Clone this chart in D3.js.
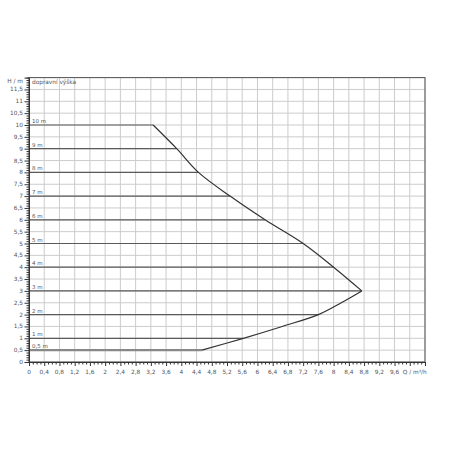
<!DOCTYPE html>
<html>
<head>
<meta charset="utf-8">
<script src="https://d3js.org/d3.v7.min.js"></script>
<style>
  body { margin: 0; background: #fff; }
  svg text { font-family: "DejaVu Sans", Arial, sans-serif; fill: #555; }
</style>
</head>
<body>
<div id="chart"></div>
<script>
// head lines (m) drawn across the field, with their labels
const headLevels = [0.5, 1, 2, 3, 4, 5, 6, 7, 8, 9, 10];
const headLabels = ["0,5 m", "1 m", "2 m", "3 m", "4 m", "5 m", "6 m", "7 m", "8 m", "9 m", "10 m"];
const headEnds = [4.54, 5.63, 7.6, 8.74, 8.0, 7.2, 6.2, 5.28, 4.45, 3.88, 3.26];

// envelope, upper branch (Q, H)
const upperQ = [3.26, 3.88, 4.45, 5.28, 6.2, 7.2, 8.0, 8.74];
const upperH = [10, 9, 8, 7, 6, 5, 4, 3];
// envelope, lower branch (Q, H)
const lowerQ = [4.54, 5.63, 6.65, 7.6, 8.2, 8.74];
const lowerH = [0.5, 1, 1.5, 2, 2.5, 3];

// tick labels
const xTicks = d3.range(0, 26).map(i => +(i * 0.4).toFixed(1)); // 0 .. 10
const yTicks = d3.range(0, 25).map(i => i * 0.5);               // 0 .. 12

const W = 450, H = 450;
const mLeft = 29, mRight = 425, mTop = 77.6, mBottom = 362;

const x = d3.scaleLinear().domain([0, 10.4]).range([mLeft, mRight]);
const y = d3.scaleLinear().domain([0, 12]).range([mBottom, mTop]);

const svg = d3.select("#chart").append("svg")
  .attr("width", W).attr("height", H);

const fmt = v => String(v).replace(".", ",");

// grid
svg.append("g").selectAll("line").data(xTicks.concat([10.4]))
  .join("line")
  .attr("x1", d => x(d)).attr("x2", d => x(d))
  .attr("y1", mTop).attr("y2", mBottom)
  .attr("stroke", "#cccccc").attr("stroke-width", 1);
svg.append("g").selectAll("line").data(yTicks)
  .join("line")
  .attr("x1", mLeft).attr("x2", mRight)
  .attr("y1", d => y(d)).attr("y2", d => y(d))
  .attr("stroke", "#cccccc").attr("stroke-width", 1);

// border
svg.append("rect")
  .attr("x", mLeft).attr("y", mTop)
  .attr("width", mRight - mLeft).attr("height", mBottom - mTop)
  .attr("fill", "none").attr("stroke", "#555").attr("stroke-width", 1);

// head lines
svg.append("g").selectAll("line").data(headLevels)
  .join("line")
  .attr("x1", x(0)).attr("x2", (d, i) => x(headEnds[i]))
  .attr("y1", d => y(d)).attr("y2", d => y(d))
  .attr("stroke", (d, i) => i === 0 ? "#888" : "#5a5a5a")
  .attr("stroke-width", (d, i) => i === 0 ? 2.2 : 1.2);

svg.append("g").selectAll("text").data(headLevels)
  .join("text")
  .attr("x", x(0) + 3).attr("y", d => y(d) - 2)
  .attr("font-size", 5.5)
  .text((d, i) => headLabels[i]);

// envelope
const line = d3.line().x(d => x(d[0])).y(d => y(d[1])).curve(d3.curveCatmullRom.alpha(0.5));
svg.append("path")
  .datum(upperQ.map((q, i) => [q, upperH[i]]))
  .attr("d", line)
  .attr("fill", "none").attr("stroke", "#333").attr("stroke-width", 1.2);
svg.append("path")
  .datum(lowerQ.map((q, i) => [q, lowerH[i]]))
  .attr("d", line)
  .attr("fill", "none").attr("stroke", "#333").attr("stroke-width", 1.2);

// x axis
const isMult = (v, step) => Math.abs(Math.round(v / step) * step - v) < 1e-6;
const xAxis = svg.append("g").attr("transform", `translate(0,${mBottom})`);
xAxis.call(d3.axisBottom(x).tickValues(d3.range(0, 105).map(i => i / 10))
  .tickSize(2.5).tickFormat(""));
xAxis.selectAll(".tick line")
  .attr("stroke", "#333")
  .attr("y2", d => isMult(d, 0.4) ? 4 : 2.5);
xAxis.select(".domain").attr("stroke", "#333");
svg.append("g").selectAll("text").data(xTicks.slice(0, -1))
  .join("text")
  .attr("x", d => x(d)).attr("y", mBottom + 12)
  .attr("text-anchor", "middle").attr("font-size", 5.8)
  .text(d => fmt(d));
svg.append("text")
  .attr("x", x(10) + 5).attr("y", mBottom + 12)
  .attr("text-anchor", "middle").attr("font-size", 5.8)
  .text("Q / m³/h");

// y axis
const yAxis = svg.append("g").attr("transform", `translate(${mLeft},0)`);
yAxis.call(d3.axisLeft(y).tickValues(d3.range(0, 121).map(i => i / 10))
  .tickSize(2.5).tickFormat(""));
yAxis.selectAll(".tick line")
  .attr("stroke", "#333")
  .attr("x2", d => isMult(d, 0.5) ? -4.5 : -2.5);
yAxis.select(".domain").attr("stroke", "#333");
svg.append("g").selectAll("text").data(yTicks.slice(0, -1))
  .join("text")
  .attr("x", mLeft - 6).attr("y", d => y(d) + 2)
  .attr("text-anchor", "end").attr("font-size", 5.8)
  .text(d => fmt(d));
svg.append("text")
  .attr("x", mLeft - 6).attr("y", y(12) + 5)
  .attr("text-anchor", "end").attr("font-size", 5.8)
  .text("H / m");
svg.append("text")
  .attr("x", mLeft + 3).attr("y", y(12) + 6)
  .attr("font-size", 5.8)
  .text("dopravní  výška");
</script>
</body>
</html>
